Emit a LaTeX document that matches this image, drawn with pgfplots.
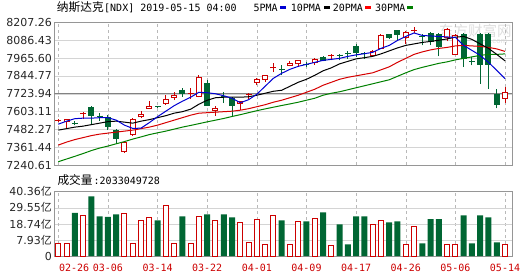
\documentclass[border=0pt]{standalone}
\usepackage{pgfplots}
\pgfplotsset{compat=1.18}
\usepackage{pgfplotstable}
\usepackage{fontspec}
\setmainfont{DejaVu Sans}
\newfontfamily\cjk{Noto Sans CJK SC}
\newfontfamily\mono{DejaVu Sans Mono}

\definecolor{cred}{RGB}{204,0,0}
\definecolor{cgreen}{RGB}{0,102,51}
\definecolor{ma5}{RGB}{0,0,210}
\definecolor{ma20}{RGB}{214,0,0}
\definecolor{ma30}{RGB}{0,128,0}
\definecolor{framegray}{RGB}{150,150,150}
\definecolor{gridgray}{RGB}{212,212,212}
\definecolor{dashgray}{RGB}{185,185,185}
\definecolor{midgray}{RGB}{130,130,130}

% red (up) candles: index, open, high, low, close
\pgfplotstableread{
i o h l c
0 7541.4 7554.9 7531.3 7548.2
1 7531.3 7554.9 7490.7 7553.6
3 7585.4 7598.9 7551.6 7592.1
8 7328.5 7402.8 7325.1 7398.1
9 7441.4 7556.3 7440.0 7549.5
10 7563.1 7605.6 7556.3 7585.4
11 7621.2 7673.2 7619.2 7639.4
13 7653.0 7713.8 7650.9 7686.8
14 7695.5 7736.1 7680.0 7713.8
16 7724.0 7763.1 7691.5 7730.7
17 7702.3 7849.0 7699.7 7837.5
19 7609.0 7642.8 7575.2 7629.3
22 7657.7 7675.0 7612.4 7674.7
23 7714.0 7729.3 7691.5 7720.6
24 7797.0 7828.7 7781.4 7826.7
25 7819.9 7852.4 7803.7 7849.0
26 7896.3 7932.1 7871.3 7903.1
28 7911.9 7943.6 7909.8 7934.9
29 7923.4 7953.8 7905.3 7950.4
31 7934.9 7968.7 7921.3 7961.9
33 7977.4 7995.7 7950.4 7984.2
38 7979.5 8018.0 7977.4 8013.3
39 8029.4 8130.8 8028.1 8119.4
42 8103.9 8146.4 8063.3 8141.6
43 8148.4 8175.5 8134.9 8155.2
47 8103.9 8170.1 8079.2 8164.7
48 7989.0 8130.8 7987.6 8119.4
54 7691.5 7769.9 7661.7 7736.1
}\redc

% green (down) candles
\pgfplotstableread{
i o h l c
2 7527.9 7540.1 7509.0 7521.1
4 7630.7 7639.4 7511.0 7571.8
5 7575.2 7590.1 7540.1 7569.1
6 7567.1 7578.6 7477.2 7499.5
7 7477.2 7481.9 7387.3 7418.4
12 7639.4 7642.8 7627.3 7630.7
15 7752.3 7765.9 7702.3 7720.6
18 7794.9 7815.2 7639.4 7641.5
20 7707.0 7734.1 7659.7 7700.3
21 7693.5 7700.3 7575.2 7639.4
27 7890.9 7916.6 7849.0 7884.2
30 7926.7 7938.9 7905.3 7920.0
32 7972.7 7977.4 7943.6 7945.7
34 7989.0 7995.7 7950.4 7982.2
35 7999.8 8013.3 7961.9 7993.0
36 8045.0 8058.6 7972.7 8002.5
37 8001.3 8006.6 7961.9 7994.5
40 8126.2 8130.8 8097.2 8103.9
41 8153.2 8157.9 8085.6 8119.4
44 8112.7 8126.2 8051.8 8105.9
45 8132.9 8139.7 8051.8 8072.1
46 8129.5 8132.9 7977.4 8039.2
49 8129.5 8132.9 7905.3 7961.9
50 7946.0 7972.7 7916.6 7939.7
51 8129.5 8132.9 7792.9 7916.6
52 8129.5 8132.9 7759.1 7916.6
53 7720.6 7757.7 7624.1 7646.2
}\grnc

% moving averages
\pgfplotstableread{
i m5 m10 m20 m30
0 7517.7 7477.2 7375.8 7262.9
1 7538.0 7487.3 7396.1 7281.2
2 7554.9 7497.5 7413.0 7299.4
3 7558.3 7504.2 7426.5 7318.3
4 7558.3 7514.4 7440.0 7338.6
5 7561.7 7524.5 7450.2 7355.5
6 7561.7 7534.7 7456.9 7369.0
7 7544.8 7538.0 7463.7 7384.6
8 7511.0 7531.3 7470.4 7399.5
9 7488.7 7524.5 7477.2 7416.4
10 7490.7 7538.0 7487.3 7431.2
11 7527.9 7548.2 7497.5 7446.8
12 7568.5 7561.7 7511.0 7458.9
13 7605.6 7575.2 7527.9 7470.4
14 7642.8 7592.1 7544.8 7484.0
15 7673.2 7602.3 7561.7 7497.5
16 7700.3 7619.2 7578.6 7509.0
17 7734.1 7653.0 7592.1 7521.1
18 7730.7 7680.0 7595.5 7533.3
19 7723.9 7696.9 7598.9 7544.8
20 7710.4 7700.3 7602.3 7556.3
21 7693.5 7700.3 7605.6 7569.8
22 7663.1 7700.3 7612.4 7582.0
23 7683.4 7703.7 7622.5 7595.5
24 7720.6 7713.8 7636.1 7609.0
25 7774.6 7727.3 7649.6 7621.2
26 7828.7 7740.8 7666.5 7632.7
27 7862.5 7747.6 7680.0 7644.2
28 7889.6 7774.6 7696.9 7655.0
29 7909.8 7801.7 7713.8 7666.5
30 7923.4 7822.0 7734.1 7680.0
31 7936.9 7849.0 7754.4 7693.5
32 7950.4 7879.4 7781.4 7713.8
33 7957.2 7899.7 7801.7 7727.3
34 7963.9 7926.7 7822.0 7737.5
35 7977.4 7943.6 7835.5 7751.0
36 7987.6 7960.5 7845.6 7764.5
37 7995.7 7968.7 7855.8 7778.0
38 8004.5 7977.4 7865.9 7791.5
39 8031.5 7994.3 7886.2 7805.1
40 8051.8 8014.6 7906.5 7818.6
41 8085.6 8034.9 7936.9 7842.2
42 8112.6 8051.8 7963.9 7865.9
43 8136.3 8061.9 7991.0 7887.5
44 8119.4 8072.1 8007.9 7903.1
45 8116.0 8078.8 8021.4 7916.6
46 8112.6 8087.0 8031.5 7930.1
47 8109.3 8095.7 8038.3 7940.3
48 8105.9 8107.9 8048.4 7953.8
49 8051.8 8112.6 8051.8 7963.9
50 8018.0 8092.4 8048.4 7974.1
51 7984.2 8061.9 8045.0 7984.2
52 7936.9 8031.5 8038.3 7991.0
53 7882.8 7991.0 8028.1 7991.0
54 7826.7 7947.0 8011.2 7994.3
}\mas

% volume (yi), up days
\pgfplotstableread{
i v
0 5.86
1 5.86
3 24.49
8 25.84
9 5.86
10 21.13
11 22.88
13 30.95
14 5.86
16 5.86
17 23.82
19 21.13
22 19.78
23 6.33
24 21.80
25 4.85
26 24.49
28 4.72
29 20.46
31 22.20
33 4.05
38 18.17
39 20.86
42 4.72
43 16.82
47 4.72
48 4.72
54 4.72
}\volred

% volume (yi), down days
\pgfplotstableread{
i v
2 26.04
4 37.27
5 23.82
6 23.35
7 25.16
12 21.13
15 23.82
18 25.16
20 25.16
21 23.15
27 21.13
30 20.46
32 26.51
34 18.44
35 4.99
36 23.82
37 23.82
40 19.78
41 20.46
44 5.66
45 22.00
46 22.00
49 24.49
50 5.66
51 24.49
52 23.15
53 6.33
}\volgrn

\pgfplotsset{
  kbase/.style={
    scale only axis, width=458pt, anchor=south west,
    xmin=-0.484, xmax=54.88,
    axis line style={draw=framegray},
    major tick length=0pt,
    xmajorgrids, ymajorgrids,
    x grid style={draw=dashgray, dash pattern=on 3pt off 3pt},
    y grid style={draw=gridgray},
    /pgf/number format/assume math mode=true,
    yticklabel style={font=\fontsize{11}{13}\selectfont, anchor=east, inner sep=0pt, xshift=-2.3pt, text=black!85},
  }
}

\begin{document}
\begin{tikzpicture}[x=1pt,y=1pt]
\useasboundingbox (0,0) rectangle (530,276);

% title line
\node[anchor=base west, inner sep=0pt] at (56.7,264.5) {\cjk\fontsize{11.7}{12}\selectfont 纳斯达克};
\node[anchor=base west, inner sep=0pt] at (104,264.5) {\mono\fontsize{10}{12}\selectfont [NDX] 2019-05-15 04:00};
\node[anchor=base west, inner sep=0pt] at (253.3,264.5) {\mono\fontsize{10}{12}\selectfont 5PMA};
\fill[ma5] (280,266.6) rectangle (286,269.6);
\node[anchor=base west, inner sep=0pt] at (290.7,264.5) {\mono\fontsize{10}{12}\selectfont 10PMA};
\fill[black] (324,266.6) rectangle (330,269.6);
\node[anchor=base west, inner sep=0pt] at (332.7,264.5) {\mono\fontsize{10}{12}\selectfont 20PMA};
\fill[red] (365,266.6) rectangle (371,269.6);
\node[anchor=base west, inner sep=0pt] at (375,264.5) {\mono\fontsize{10}{12}\selectfont 30PMA};
\fill[ma30] (407,266.6) rectangle (413,269.6);

% watermark
\node[anchor=west, inner sep=0pt, text=black!13] at (439,245) {\cjk\fontsize{14.5}{15}\selectfont 东方财富网};
\node[anchor=west, inner sep=0pt, text=black!13] at (490,234.5) {\fontsize{7}{8}\selectfont .com};

% volume caption
\node[anchor=base west, inner sep=0pt] at (57.3,92) {\cjk\fontsize{11.7}{12}\selectfont 成交量};
\node[anchor=base west, inner sep=0pt] at (93.5,92) {\mono\fontsize{10}{12}\selectfont :2033049728};

% ---------------- price panel ----------------
\begin{axis}[kbase,
  at={(54.3pt,111pt)}, height=142.5pt,
  ymin=7240.61, ymax=8207.26,
  xtick={0,6,...,54}, xticklabels={},
  ytick={7240.61,7361.44,7482.27,7603.11,7723.94,7844.77,7965.60,8086.43,8207.26},
  yticklabels={7240.61,7361.44,7482.27,7603.11,7723.94,7844.77,7965.60,8086.43,8207.26},
]
\addplot[midgray, line width=0.8pt] coordinates {(-0.484,7723.94) (54.88,7723.94)};
% wicks
\addplot[quiver={u=0, v=\thisrow{h}-\thisrow{l}}, draw=cred, line width=1pt] table[x=i, y=l] {\redc};
\addplot[quiver={u=0, v=\thisrow{h}-\thisrow{l}}, draw=cgreen, line width=1pt] table[x=i, y=l] {\grnc};
% bodies
\addplot[quiver={u=0, v=\thisrow{c}-\thisrow{o}}, draw=cred, line width=6pt] table[x=i, y=o] {\redc};
\addplot[quiver={u=0, v={max(\thisrow{c}-\thisrow{o}-13.6,0)}}, draw=white, line width=4pt] table[x=i, y expr=\thisrow{o}+6.8] {\redc};
\addplot[quiver={u=0, v=\thisrow{c}-\thisrow{o}}, draw=cgreen, line width=6pt] table[x=i, y=o] {\grnc};
% moving averages
\addplot[ma30, line width=1pt] table[x=i, y=m30] {\mas};
\addplot[ma20, line width=1pt] table[x=i, y=m20] {\mas};
\addplot[black, line width=1pt] table[x=i, y=m10] {\mas};
\addplot[ma5, line width=1pt] table[x=i, y=m5] {\mas};
\end{axis}

% ---------------- volume panel ----------------
\begin{axis}[kbase,
  at={(54.3pt,20pt)}, height=64.3pt,
  ymin=0, ymax=43.24,
  ytick={0,10.81,21.62,32.43,43.24},
  yticklabels={0,7.93{\cjk 亿},18.74{\cjk 亿},29.55{\cjk 亿},40.36{\cjk 亿}},
  xtick={6,12,...,54},
  xticklabels={03-06,03-14,03-22,04-01,04-09,04-17,04-26,05-06,05-14},
  extra x ticks={0}, extra x tick labels={02-26},
  extra x tick style={xticklabel style={anchor=north west, xshift=0.5pt}},
  xticklabel style={font=\mono\fontsize{10}{12}\selectfont, text=cred, anchor=north, inner sep=0pt, yshift=-7.5pt},
]
\addplot[ybar, bar shift=0pt, bar width=5pt, draw=cred, line width=1pt, fill=white] table[x=i, y expr=\thisrow{v}+2.88] {\volred};
\addplot[ybar, bar shift=0pt, bar width=6pt, draw=none, fill=cgreen] table[x=i, y expr=\thisrow{v}+2.88] {\volgrn};
\end{axis}
\end{tikzpicture}
\end{document}
